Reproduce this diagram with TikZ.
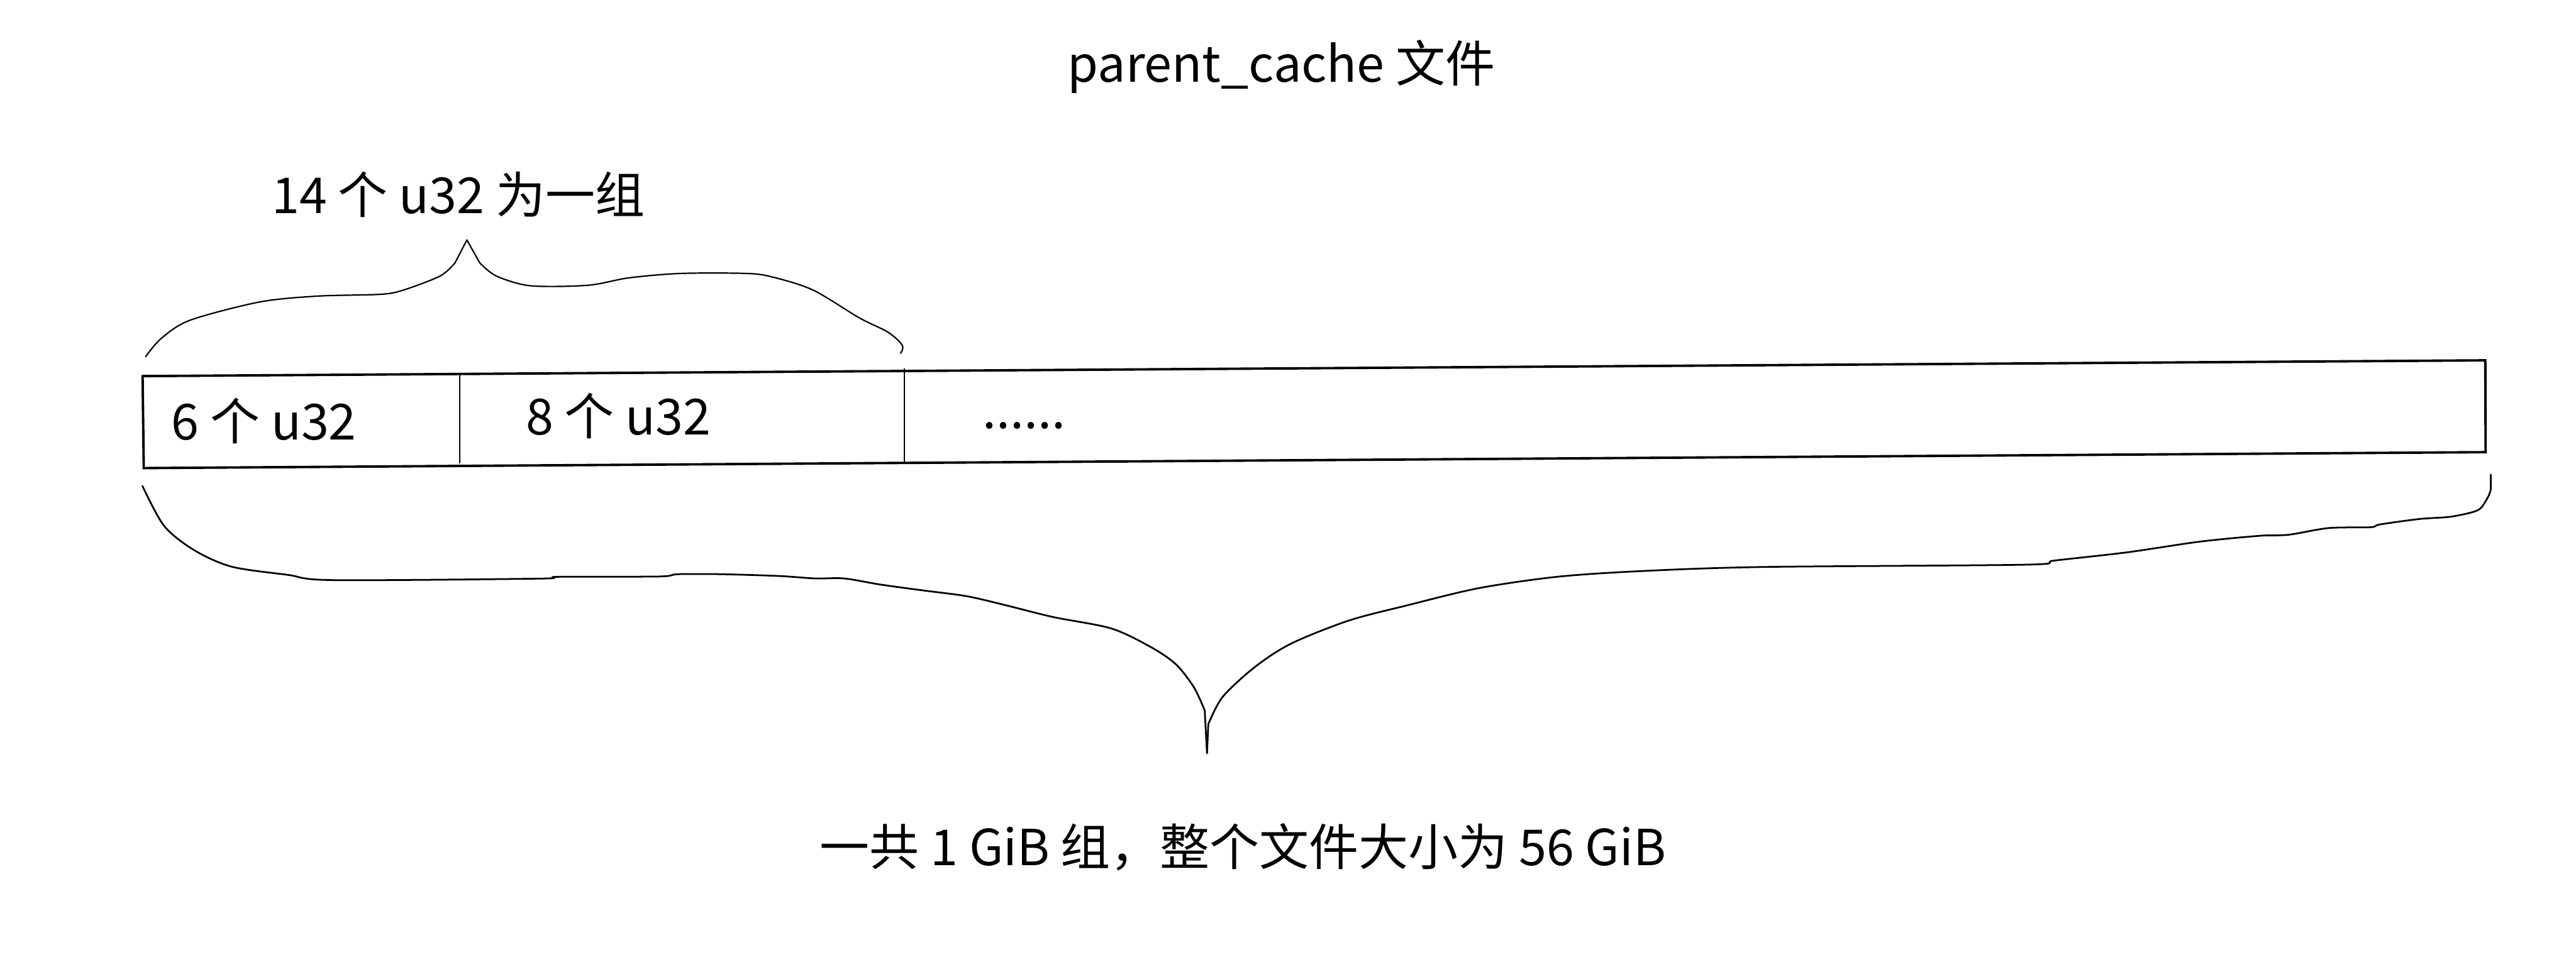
\documentclass[tikz,border=0pt]{standalone}
\usepackage{fontspec}
\setmainfont{Noto Sans CJK SC}
\begin{document}
\begin{tikzpicture}[x=0.01cm,y=-0.01cm,
  txt/.style={font=\fontsize{8.6pt}{10pt}\selectfont, inner sep=0pt, anchor=base},
  box/.style={line width=0.42pt, line join=miter},
  sep/.style={line width=0.22pt},
  brace/.style={line width=0.3pt, line join=round, line cap=round},
  thinbrace/.style={line width=0.24pt, line join=round, line cap=round}]
\useasboundingbox (0,0) rectangle (1568,585.5);

% title and labels
\node[txt] (title) at (780,50) {parent\_cache 文件};
\node[txt] (grp) at (279,130.1) {14 个 u32 为一组};
\node[txt] (c1) at (160.7,267.7) {6 个 u32};
\node[txt] (c2) at (376.4,264.7) {8 个 u32};
\node[txt] (dots) at (623.3,261) {......};
\node[txt] (total) at (756.6,526.8) {一共 1 GiB 组，整个文件大小为 56 GiB};

% the file strip (hand drawn, slightly skewed)
\coordinate (tl) at (86.8,229);
\coordinate (tr) at (1512.8,219.4);
\coordinate (br) at (1513,275.3);
\coordinate (bl) at (87.5,285);
\draw[box] (tl) -- (tr) -- (br) -- (bl) -- cycle;

\coordinate (d1t) at (280,228.2);
\coordinate (d1b) at (280,282.2);
\coordinate (d2t) at (550.6,224.3);
\coordinate (d2b) at (550.6,281.8);
\draw[sep] (d1t) -- (d1b);
\draw[sep] (d2t) -- (d2b);

% upper brace
\coordinate (ut) at (284.2,146.1);
\draw[thinbrace] plot[smooth, tension=0.5] coordinates {(88.6,217.2) (98.1,206.1) (115.6,195.0) (157.8,183.9) (193,180.3) (231.5,179.2) (245.6,176.6) (268,168) (277,160)} -- (ut);
\draw[thinbrace] (ut) -- plot[smooth, tension=0.5] coordinates {(292,160) (302,168) (322.9,174) (357.9,173.7) (382.6,169.2) (414.1,166.5) (454.5,166.5) (470.3,168.7) (494.9,176.6) (523,193.5) (540.6,202.3) (549.3,210.3) (548.2,215.1)};

% lower brace
\coordinate (lt) at (734.7,458.6);
\draw[brace] plot[smooth, tension=0.5] coordinates {(86.7,295.9) (99.9,320.2) (118.1,334.9) (140.9,345) (175.2,350) (202.6,353.2) (328.1,352.3) (339.6,351.2) (401,351) (412.6,349.6) (439,349.6) (474.3,350.7) (496.3,352.2) (513.9,352.2) (535.8,355.9) (562,359.5) (588.5,363) (612.6,368.6) (641.1,375.7) (676.3,382.6) (700.4,393.9) (715.7,404.4) (726.7,418.4) (733.3,432.5)} -- (lt);
\draw[brace] (lt) -- plot[smooth, tension=0.5] coordinates {(735.5,440.9) (744.3,424.2) (764.1,405.9) (786,391.8) (821.1,377.8) (856.4,368.6) (900.1,358.1) (948.5,351.1) (1001.2,347.6) (1073.5,345.2) (1233.1,343.8) (1250.5,341.3) (1294.7,336.3) (1338.8,329.8) (1375.7,326.2) (1393,325.6) (1417.5,321.5) (1443,321) (1448.7,319.3) (1472.6,316) (1491,314.7) (1504.7,311.9) (1510.2,309.2) (1514.8,301.9) (1516.1,298)} -- (1516.1,289);
\end{tikzpicture}
\end{document}
